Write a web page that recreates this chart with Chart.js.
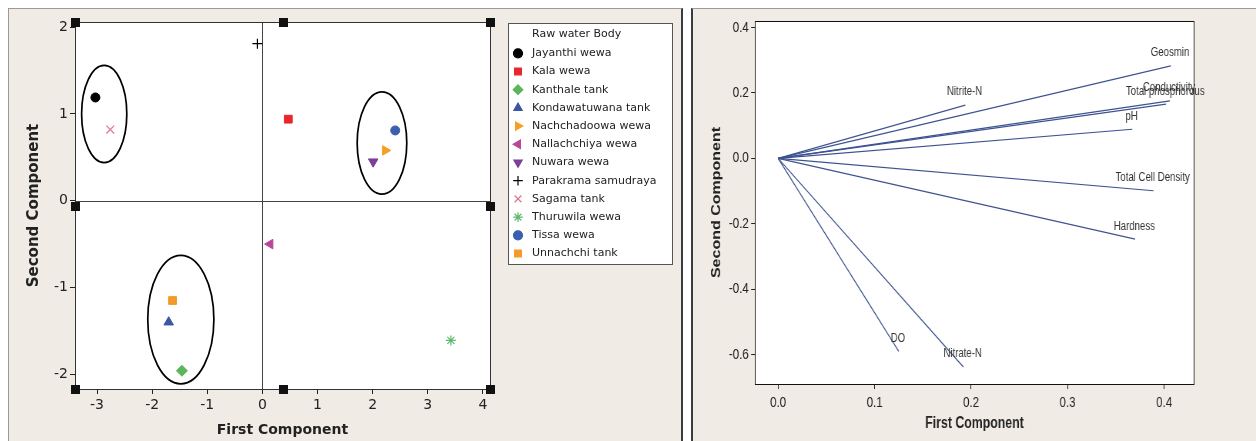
<!DOCTYPE html>
<html>
<head>
<meta charset="utf-8">
<script src="https://cdn.jsdelivr.net/npm/chart.js@4.4.1/dist/chart.umd.min.js"></script>
<style>
  html, body { margin: 0; padding: 0; background: #fff; }
  body { width: 1256px; height: 441px; position: relative; overflow: hidden; }
  .panel { position: absolute; background: #f0ebe4; box-sizing: border-box; }
  #p1 { left: 8px; top: 8px; width: 675px; height: 433px; border-top: 1px solid #9a9a9a; border-left: 1px solid #9a9a9a; border-right: 2px solid #3c3c3c; }
  #p2 { left: 691px; top: 8px; width: 565px; height: 433px; border-top: 1px solid #9a9a9a; border-left: 2px solid #3c3c3c; }
  canvas { position: absolute; }
  #scores { left: 10px; top: 9px; }
  #loadings { left: 694px; top: 9px; transform: scaleX(0.7699); transform-origin: 0 0; }
</style>
</head>
<body>
<div class="panel" id="p1"></div>
<div class="panel" id="p2"></div>
<canvas id="scores" width="672" height="432"></canvas>
<canvas id="loadings" width="730" height="432"></canvas>
<script>
// score plot
var bodies = ["Jayanthi wewa", "Kala wewa", "Kanthale tank", "Kondawatuwana tank", "Nachchadoowa wewa", "Nallachchiya wewa",
  "Nuwara wewa", "Parakrama samudraya", "Sagama tank", "Thuruwila wewa", "Tissa wewa", "Unnachchi tank"];
var pc1 = [-3.03, 0.47, -1.46, -1.70, 2.23, 0.14, 2.01, -0.09, -2.76, 3.42, 2.41, -1.63];
var pc2 = [1.19, 0.94, -1.96, -1.40, 0.58, -0.50, 0.45, 1.81, 0.82, -1.61, 0.81, -1.15];
var shapes = ["circle", "rect", "rectRot", "triangle", "triangle", "triangle", "triangle", "cross", "crossRot", "star", "circle", "rect"];
var turns = [0, 0, 0, 0, 90, -90, 180, 0, 0, 0, 0, 0];
var colours = ["#000000", "#e8262d", "#5bb55b", "#3a56a5", "#f4a025", "#b8479b", "#7d3f98", "#000000", "#d97b8f", "#5fba6e", "#3b5eae", "#f39a2a"];
var sizes = [4.5, 5.5, 5.5, 5.5, 5.5, 5.5, 5.5, 5, 5.5, 5, 4.5, 5.5];
var legendTitle = "Raw water Body";
// circled groups: centre x, centre y, half width, half height (data units)
var groups = [[-2.87, 1.0, 0.41, 0.56], [2.17, 0.665, 0.45, 0.59], [-1.48, -1.37, 0.60, 0.74]];

// loading plot
var variables = ["Geosmin", "Conductivity", "Total phosphorous", "Nitrite-N", "pH", "Total Cell Density", "Hardness", "DO", "Nitrate-N"];
var load1 = [0.407, 0.406, 0.402, 0.194, 0.367, 0.389, 0.370, 0.125, 0.192];
var load2 = [0.283, 0.176, 0.166, 0.163, 0.089, -0.099, -0.247, -0.590, -0.638];

var INK = "#222";
var LEFT_FONT = "DejaVu Sans";
var RIGHT_FONT = "Liberation Sans";

Chart.defaults.animation = false;
Chart.defaults.responsive = false;

function px(chart, x, y) {
  return { x: chart.scales.x.getPixelForValue(x), y: chart.scales.y.getPixelForValue(y) };
}

var zeroLines = {
  id: "zeroLines",
  beforeDatasetsDraw: function (chart) {
    var a = chart.chartArea, ctx = chart.ctx, o = px(chart, 0, 0);
    ctx.save();
    ctx.strokeStyle = "#444";
    ctx.lineWidth = 1;
    ctx.beginPath();
    ctx.moveTo(Math.round(o.x) + 0.5, a.top); ctx.lineTo(Math.round(o.x) + 0.5, a.bottom);
    ctx.moveTo(a.left, Math.round(o.y) + 0.5); ctx.lineTo(a.right, Math.round(o.y) + 0.5);
    ctx.stroke();
    ctx.restore();
  }
};

var circled = {
  id: "circled",
  afterDatasetsDraw: function (chart) {
    var ctx = chart.ctx;
    ctx.save();
    ctx.strokeStyle = "#000";
    ctx.lineWidth = 1.7;
    groups.forEach(function (g) {
      var c = px(chart, g[0], g[1]);
      var e = px(chart, g[0] + g[2], g[1] + g[3]);
      ctx.beginPath();
      ctx.ellipse(c.x, c.y, Math.abs(e.x - c.x), Math.abs(e.y - c.y), 0, 0, Math.PI * 2);
      ctx.stroke();
    });
    ctx.restore();
  }
};

var frame = {
  id: "frame",
  beforeDraw: function (chart) {
    var a = chart.chartArea, ctx = chart.ctx;
    ctx.save();
    ctx.fillStyle = "#fff";
    ctx.fillRect(a.left, a.top, a.right - a.left, a.bottom - a.top);
    ctx.restore();
  },
  afterDraw: function (chart, args, opts) {
    var a = chart.chartArea, ctx = chart.ctx;
    ctx.save();
    ctx.strokeStyle = opts.color || INK;
    ctx.lineWidth = 1;
    ctx.strokeRect(Math.round(a.left) + 0.5, Math.round(a.top) + 0.5, Math.round(a.right - a.left), Math.round(a.bottom - a.top));
    if (opts.handles) {
      // selection handles at corners and edge midpoints
      var xs = [a.left, (a.left + a.right) / 2, a.right], ys = [a.top, (a.top + a.bottom) / 2, a.bottom];
      ctx.fillStyle = "#111";
      ys.forEach(function (y, j) {
        xs.forEach(function (x, i) {
          if (i === 1 && j === 1) return;
          ctx.fillRect(Math.round(x) - 4, Math.round(y) - 4, 9, 9);
        });
      });
    }
    ctx.restore();
  }
};

var sideLegend = {
  id: "sideLegend",
  afterDraw: function (chart) {
    var ctx = chart.ctx, a = chart.chartArea;
    var left = a.right + 18, top = a.top + 1, w = 164, h = 241;
    ctx.save();
    ctx.fillStyle = "#fff";
    ctx.fillRect(left, top, w, h);
    ctx.strokeStyle = "#555";
    ctx.lineWidth = 1;
    ctx.strokeRect(left + 0.5, top + 0.5, w, h);
    ctx.font = "11px '" + LEFT_FONT + "'";
    ctx.textBaseline = "middle";
    ctx.fillStyle = INK;
    ctx.fillText(legendTitle, left + 24, top + 11);
    bodies.forEach(function (name, i) {
      var y = top + 30.3 + i * 18.2;
      ctx.fillStyle = colours[i];
      ctx.strokeStyle = colours[i];
      ctx.lineWidth = 1.2;
      Chart.helpers.drawPoint(ctx, { pointStyle: shapes[i], rotation: turns[i], radius: Math.min(sizes[i], 4.8), borderWidth: 1 }, left + 10, y);
      ctx.fillStyle = INK;
      ctx.fillText(name, left + 24, y);
    });
    ctx.restore();
  }
};

var endLabels = {
  id: "endLabels",
  afterDatasetsDraw: function (chart) {
    var ctx = chart.ctx;
    ctx.save();
    ctx.font = "12.5px '" + RIGHT_FONT + "'";
    ctx.fillStyle = "#333";
    ctx.textAlign = "center";
    ctx.textBaseline = "middle";
    variables.forEach(function (v, i) {
      var p = px(chart, load1[i], load2[i]);
      ctx.fillText(v, p.x - 1, p.y - 13);
    });
    ctx.restore();
  }
};

function axis(opts) {
  return {
    type: "linear",
    min: opts.min,
    max: opts.max,
    afterFit: opts.fit,
    border: { display: true, color: INK, width: 1 },
    grid: { drawOnChartArea: false, drawTicks: true, tickLength: 5, tickColor: INK },
    ticks: {
      stepSize: opts.step, includeBounds: false, autoSkip: false, maxRotation: 0,
      color: INK, padding: opts.pad, font: { family: opts.family, size: opts.size },
      callback: opts.fmt
    },
    title: {
      display: true, text: opts.title, color: INK,
      font: { family: opts.family, size: opts.titleSize, weight: "bold" },
      padding: opts.titlePad
    }
  };
}

new Chart(document.getElementById("scores"), {
  type: "scatter",
  data: {
    datasets: bodies.map(function (name, i) {
      return {
        label: name,
        data: [{ x: pc1[i], y: pc2[i] }],
        pointStyle: shapes[i],
        rotation: turns[i],
        pointRadius: sizes[i],
        backgroundColor: colours[i],
        borderColor: colours[i],
        borderWidth: shapes[i].indexOf("cross") >= 0 || shapes[i] === "star" ? 1.2 : 1
      };
    })
  },
  options: {
    layout: { padding: { left: 0, top: 13, right: 192, bottom: 0 } },
    plugins: { legend: { display: false }, tooltip: { enabled: false }, frame: { color: "#333", handles: true } },
    scales: {
      x: axis({ min: -3.4, max: 4.13, step: 1, pad: 3, family: LEFT_FONT, size: 14, title: "First Component", titleSize: 14,
        titlePad: { top: 0, bottom: 2.6 }, fit: function (s) { s.height = 52; } }),
      y: axis({ min: -2.17, max: 2.06, step: 1, pad: 2, family: LEFT_FONT, size: 14, title: "Second Component", titleSize: 15,
        titlePad: { top: 15, bottom: 0 }, fit: function (s) { s.width = 65; } })
    }
  },
  plugins: [zeroLines, circled, frame, sideLegend]
});

new Chart(document.getElementById("loadings"), {
  type: "scatter",
  data: {
    datasets: variables.map(function (v, i) {
      return {
        label: v,
        data: [{ x: 0, y: 0 }, { x: load1[i], y: load2[i] }],
        showLine: true,
        borderColor: "#3d5290",
        borderWidth: 1.2,
        pointRadius: 0
      };
    })
  },
  options: {
    layout: { padding: { left: 0, top: 12, right: 80.6, bottom: 0 } },
    plugins: { legend: { display: false }, tooltip: { enabled: false }, frame: { color: "#111" } },
    scales: {
      x: axis({ min: -0.024, max: 0.431, step: 0.1, pad: 5, family: RIGHT_FONT, size: 15, title: "First Component", titleSize: 16,
        titlePad: { top: 0, bottom: 8 }, fit: function (s) { s.height = 57; }, fmt: function (v) { return v.toFixed(1); } }),
      y: axis({ min: -0.69, max: 0.42, step: 0.2, pad: 3, family: RIGHT_FONT, size: 15, title: "Second Component", titleSize: 16,
        titlePad: { top: 20, bottom: 0 }, fit: function (s) { s.width = 79.2; }, fmt: function (v) { return v.toFixed(1); } })
    }
  },
  plugins: [frame, endLabels]
});
</script>
</body>
</html>
